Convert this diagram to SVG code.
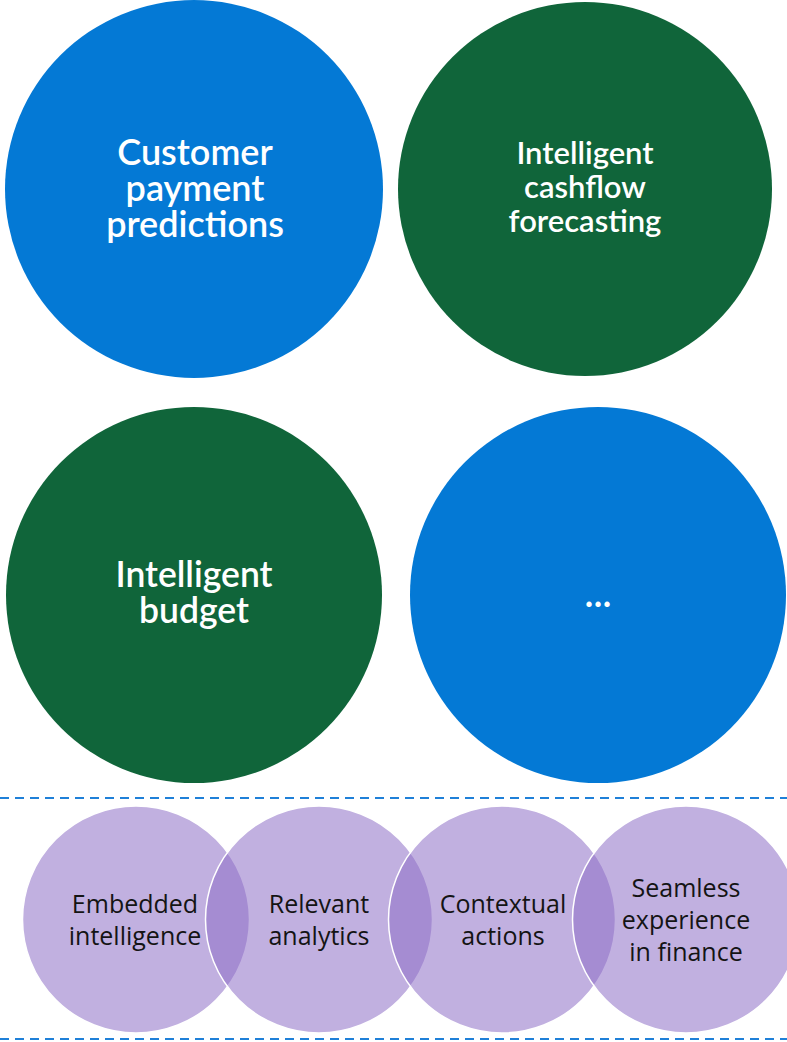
<svg xmlns="http://www.w3.org/2000/svg" width="787" height="1042" viewBox="0 0 787 1042">
  <style>
    .blue { fill: #0479D5; }
    .green { fill: #10653A; }
    .big { font-family: Lato, "Open Sans", "Liberation Sans", sans-serif; font-weight: 600; fill: #ffffff; text-anchor: middle; }
    .small { font-family: "Open Sans", "Liberation Sans", sans-serif; font-weight: 400; font-size: 25px; fill: #141414; text-anchor: middle; }
    .lav { fill: #8E6FC7; fill-opacity: 0.55; stroke: #ffffff; stroke-width: 1.5; }
    .dash { stroke: #1F80D8; stroke-width: 2; stroke-dasharray: 9 6; fill: none; }
  </style>
  <rect width="787" height="1042" fill="#ffffff"/>

  <g id="node-customer-payment">
    <circle class="blue" cx="194" cy="189" r="189"/>
    <text class="big" font-size="36" x="195" y="165">Customer</text>
    <text class="big" font-size="36" x="195" y="201">payment</text>
    <text class="big" font-size="36" x="195" y="237">predictions</text>
  </g>

  <g id="node-cashflow">
    <circle class="green" cx="585" cy="189" r="187"/>
    <text class="big" font-size="31" x="585" y="164">Intelligent</text>
    <text class="big" font-size="31" x="585" y="198">cashflow</text>
    <text class="big" font-size="31" x="585" y="232">forecasting</text>
  </g>

  <g id="node-budget">
    <circle class="green" cx="194" cy="595" r="188"/>
    <text class="big" font-size="35.5" x="194" y="587">Intelligent</text>
    <text class="big" font-size="35.5" x="194" y="623">budget</text>
  </g>

  <g id="node-more">
    <circle class="blue" cx="598" cy="595" r="188"/>
    <text class="big" font-size="38" x="598" y="607">...</text>
  </g>

  <g id="connectors">
    <line class="dash" x1="0" y1="798" x2="787" y2="798"/>
    <line class="dash" x1="0" y1="1039" x2="787" y2="1039"/>
  </g>

  <g id="node-embedded">
    <circle class="lav" cx="136" cy="919.5" r="113.5"/>
  </g>
  <g id="node-relevant">
    <circle class="lav" cx="319" cy="919.5" r="113.5"/>
  </g>
  <g id="node-contextual">
    <circle class="lav" cx="502" cy="919.5" r="113.5"/>
  </g>
  <g id="node-seamless">
    <circle class="lav" cx="686" cy="919.5" r="113.5"/>
  </g>

  <g id="labels-bottom">
    <text class="small" x="135" y="913">Embedded</text>
    <text class="small" x="135" y="945">intelligence</text>
    <text class="small" x="319" y="913">Relevant</text>
    <text class="small" x="319" y="945">analytics</text>
    <text class="small" x="503" y="913">Contextual</text>
    <text class="small" x="503" y="945">actions</text>
    <text class="small" x="686" y="897">Seamless</text>
    <text class="small" x="686" y="929">experience</text>
    <text class="small" x="686" y="961">in finance</text>
  </g>
</svg>
